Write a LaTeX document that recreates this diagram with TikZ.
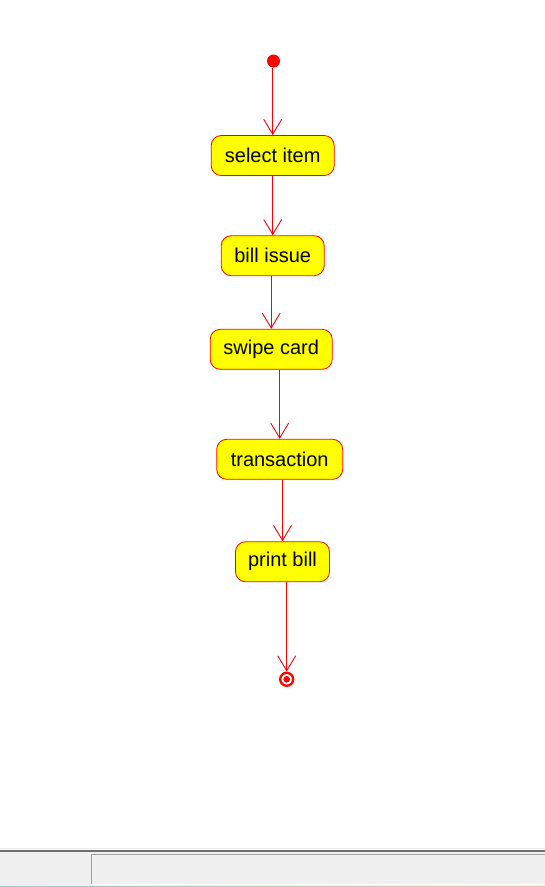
\documentclass[tikz,border=0pt]{standalone}
\usepackage{fontspec}
\setmainfont{Liberation Sans}
\definecolor{umlred}{RGB}{255,0,0}
\definecolor{umlyellow}{RGB}{255,255,0}
\definecolor{barbg}{RGB}{240,240,240}
\definecolor{bardark}{RGB}{110,110,110}
\definecolor{barmid}{RGB}{160,160,160}
\usetikzlibrary{arrows.meta,positioning,calc}
\tikzset{
  activity/.style={draw=umlred,fill=umlyellow,rounded corners=10pt,minimum height=40pt,
    inner sep=0pt,font=\fontsize{20}{24}\selectfont,line width=0.8pt},
  flow/.style={draw=umlred,line width=0.9pt,-{Straight Barb[length=15pt,width=18pt,line width=0.9pt]}}
}
\begin{document}
\begin{tikzpicture}[x=1pt,y=-1pt]
  \useasboundingbox (0,0) rectangle (545,887);
  \fill[white] (0,0) rectangle (545,887);
  % status bar
  \draw[color=black!8,line width=1pt] (0,848.5) -- (545,848.5);
  \fill[barbg] (0,850) rectangle (545,887);
  \draw[bardark,line width=2pt] (0,851) -- (545,851);
  \draw[barmid,line width=1pt] (91,884) -- (91,854.5) -- (545,854.5);
  \draw[white,line width=1pt] (91,884.5) -- (545,884.5);
  \shade[left color=teal!40,right color=brown!40] (0,886) rectangle (545,887);
  % start and end
  \node[circle,fill=umlred,minimum size=13pt,inner sep=0pt] (start) at (273.5,61) {};
  \node[circle,draw=umlred,line width=2.3pt,minimum size=13pt,inner sep=0pt] (stop) at (286.7,679.3) {};
  \fill[umlred] (stop) circle (3.3pt);
  % activities
  \node[activity,minimum width=123pt] (select) at (272.7,155.5) {select item};
  \node[activity,minimum width=103pt] (bill) at (272.7,255.7) {bill issue};
  \node[activity,minimum width=122pt] (swipe) at (271.2,349.3) {swipe card};
  \node[activity,minimum width=126pt] (trans) at (279.7,459.3) {transaction};
  \node[activity,minimum width=94pt] (print) at (282.5,561.7) {print bill};
  % transitions
  \draw[flow] (start.south -| select) -- (select.north);
  \draw[flow] (select.south -| bill) -- (bill.north);
  \draw[flow] (bill.south -| swipe) -- (swipe.north);
  \draw[flow] (swipe.south -| trans) -- (trans.north);
  \draw[flow] (trans.south -| print) -- (print.north);
  \draw[flow] (print.south -| stop) -- (stop.north);
\end{tikzpicture}
\end{document}
